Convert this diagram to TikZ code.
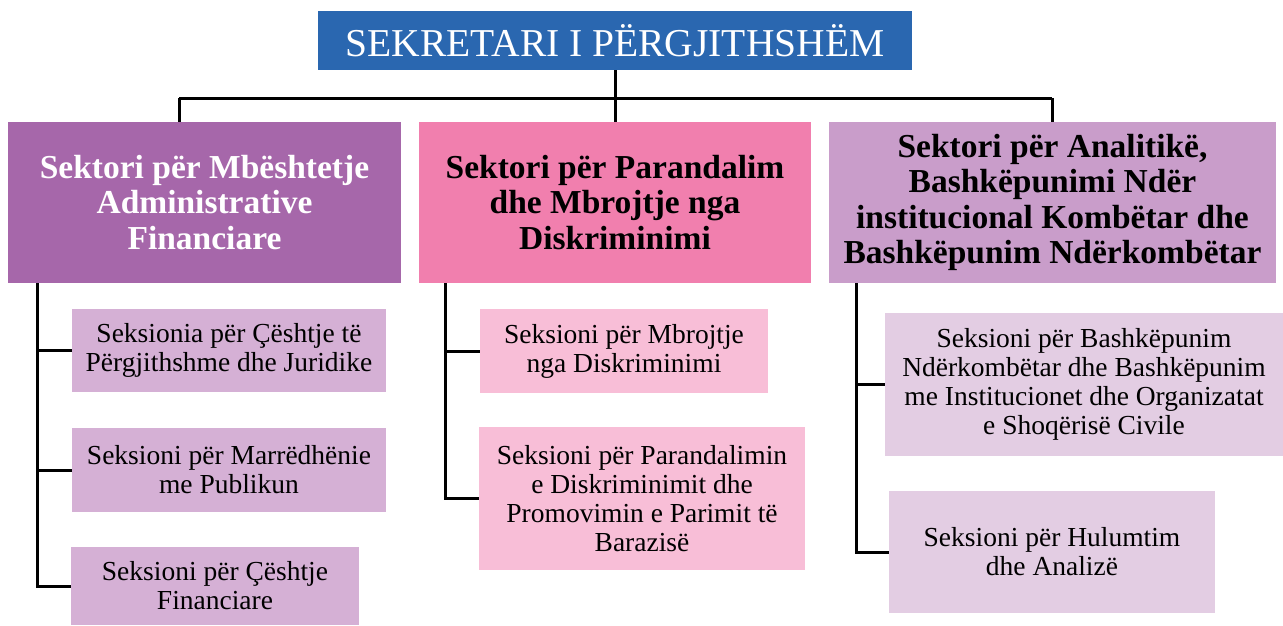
\documentclass[tikz,border=0pt]{standalone}
\usepackage{fontspec}
\setmainfont{Liberation Serif}
\usepackage{xcolor}
\usepackage{tikz}
\usetikzlibrary{calc}

\definecolor{sekblue}{RGB}{42,103,176}
\definecolor{headA}{RGB}{166,103,170}
\definecolor{headB}{RGB}{241,127,174}
\definecolor{headC}{RGB}{201,157,202}
\definecolor{subA}{RGB}{213,176,213}
\definecolor{subB}{RGB}{248,190,215}
\definecolor{subC}{RGB}{227,205,227}

\begin{document}
\begin{tikzpicture}[
		x=1pt, y=-1pt,
		main/.style={
			line width=3pt,
			color=black
			},
		box/.style={
			inner sep=0pt,
			align=center
			},
		head/.style={
			box,
			font=\fontsize{33.5}{35.5}\selectfont\bfseries
			},
		sub/.style={
			box,
			font=\fontsize{27.5}{29}\selectfont
			}
		]

		\useasboundingbox (0,0) rectangle (1283,625);

		% secretary
		\node[box, fill=sekblue, text=white, minimum width=594, minimum height=59,
			font=\fontsize{39.5}{40}\selectfont] (sek) at (615,40.5) {SEKRETARI I PËRGJITHSHËM};

		% sectors
		\node[head, fill=headA, text=white, minimum width=393, minimum height=161] (h1) at (204.5,202.5)
			{Sektori për Mbështetje\\Administrative\\Financiare};
		\node[head, fill=headB, minimum width=392, minimum height=161] (h2) at (615,202.5)
			{Sektori për Parandalim\\dhe Mbrojtje nga\\Diskriminimi};
		\node[head, fill=headC, minimum width=447, minimum height=161] (h3) at (1052.5,202.5)
			{Sektori për Analitikë,\\Bashkëpunimi Ndër\\institucional Kombëtar dhe\\Bashkëpunim Ndërkombëtar};

		% sections
		\node[sub, fill=subA, minimum width=314, minimum height=83] (s11) at (229,350.5)
			{Seksionia për Çështje të\\Përgjithshme dhe Juridike};
		\node[sub, fill=subA, minimum width=314, minimum height=84] (s12) at (229,470)
			{Seksioni për Marrëdhënie\\me Publikun};
		\node[sub, fill=subA, minimum width=288, minimum height=78] (s13) at (215,586)
			{Seksioni për Çështje\\Financiare};

		\node[sub, fill=subB, minimum width=288, minimum height=84] (s21) at (624,351)
			{Seksioni për Mbrojtje\\nga Diskriminimi};
		\node[sub, fill=subB, minimum width=326, minimum height=143] (s22) at (642,498.5)
			{Seksioni për Parandalimin\\e Diskriminimit dhe\\Promovimin e Parimit të\\Barazisë};

		\node[sub, fill=subC, minimum width=398, minimum height=143] (s31) at (1084,384.5)
			{Seksioni për Bashkëpunim\\Ndërkombëtar dhe Bashkëpunim\\me Institucionet dhe Organizatat\\e Shoqërisë Civile};
		\node[sub, fill=subC, minimum width=326, minimum height=122] (s32) at (1052,552)
			{Seksioni për Hulumtim\\dhe Analizë};

		% top connectors
		\coordinate (b1) at (179,98);
		\coordinate (b3) at (1052,98);
		\draw[main] (sek.south) -- (h2.north);
		\draw[main] (b1) -- (b3);
		\draw[main] (b1) -- (b1 |- h1.north);
		\draw[main] (b3) -- (b3 |- h3.north);

		% trunks
		\coordinate (t1) at (37,283);
		\coordinate (t2) at (445,283);
		\coordinate (t3) at (856,283);
		\draw[main] (t1) |- (s13.west);
		\draw[main] (s11.west) -- (s11.west -| t1);
		\draw[main] (s12.west) -- (s12.west -| t1);
		\draw[main] (t2) |- (s22.west);
		\draw[main] (s21.west) -- (s21.west -| t2);
		\draw[main] (t3) |- (s32.west);
		\draw[main] (s31.west) -- (s31.west -| t3);
	\end{tikzpicture}
\end{document}
